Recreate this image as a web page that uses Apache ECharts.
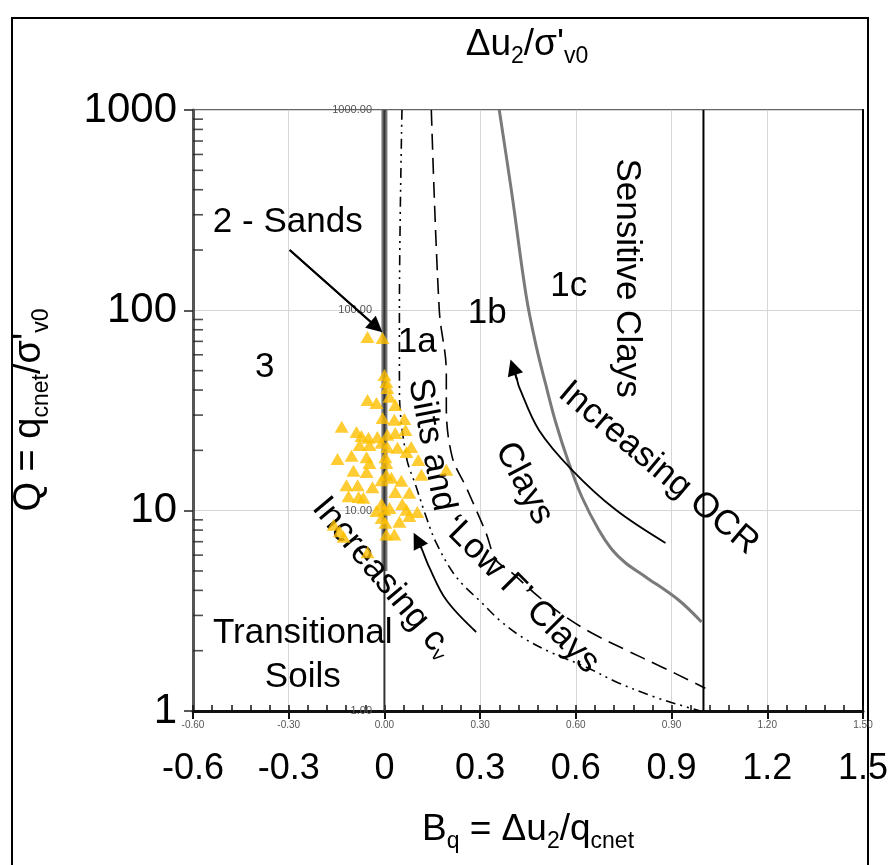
<!DOCTYPE html>
<html><head><meta charset="utf-8">
<script src="https://cdn.jsdelivr.net/npm/echarts@6/dist/echarts.min.js"></script>
<style>html,body{margin:0;padding:0;background:#fff}#c{width:891px;height:865px}</style>
</head><body><div id="c"></div>
<script>
const FONT = '"Liberation Sans", Arial, Helvetica, sans-serif';

// ---- axis ticks ----
const xTickValues = [-0.6, -0.3, 0, 0.3, 0.6, 0.9, 1.2, 1.5];
const xTickLabels = ['-0.6', '-0.3', '0', '0.3', '0.6', '0.9', '1.2', '1.5'];
const xSmallTickLabels = ['-0.60', '-0.30', '0.00', '0.30', '0.60', '0.90', '1.20', '1.50'];
const yTickLabels = ['1', '10', '100', '1000'];
const minorTickQ = [2,3,4,5,6,7,8,9,20,30,40,50,60,70,80,90,200,300,400,500,600,700,800,900];

// ---- measured CPTu points (Bq, Q) ----
const pointsBq = [-0.053,-0.006,0.000,0.006,0.009,-0.053,-0.025,0.016,0.034,-0.006,0.031,0.0625,-0.134,-0.0875,-0.072,-0.05,-0.022,0.009,0.034,0.066,-0.078,-0.047,-0.009,0.009,0.041,0.069,0.084,-0.147,-0.103,-0.056,0.003,0.106,-0.047,0.006,0.194,-0.097,-0.056,0.006,0.116,-0.009,0.022,0.053,-0.119,-0.084,-0.0375,0.034,0.078,-0.1125,-0.081,-0.066,-0.009,0.056,-0.025,0.0,0.016,0.069,0.103,-0.009,0.047,0.078,0.003,-0.159,-0.14,-0.128,0.006,0.031,-0.053];
const pointsQ  = [73.7,72.8,47.6,43.9,41.0,35.7,34.5,37.0,33.7,29.0,28.4,28.7,26.2,24.7,23.6,23.1,23.3,23.9,24.4,25.3,21.3,21.3,21.8,20.8,20.6,19.6,20.8,18.1,18.8,18.5,18.5,17.9,17.3,17.3,16.0,15.8,15.6,15.1,15.1,14.2,14.6,14.1,13.4,13.4,13.1,12.4,12.3,11.8,11.7,11.6,10.8,10.8,9.96,10.1,10.3,10.1,9.85,9.2,8.8,9.4,8.7,8.5,7.9,7.4,7.6,7.6,6.2];

// ---- zone boundaries ----
const zeroLineBq = [0, 0];            const zeroLineQ = [1, 1000];
const zeroBandBq = [0, 0];            const zeroBandQ = [5, 1000];
const bqOneLineBq = [1, 1];           const bqOneLineQ = [1, 1000];
const sandsBoundaryBq = [0.055,0.047,0.047,0.069,0.1,0.131,0.1625,0.225,0.306,0.36,0.431,0.525,0.631,0.734,0.85,0.944,0.99];
const sandsBoundaryQ  = [1000,100,40,18.5,13.1,9.3,6.9,4.67,3.46,2.85,2.34,1.95,1.66,1.38,1.17,1.05,1.0];
const siltBoundaryBq = [0.147,0.172,0.194,0.194,0.2125,0.256,0.2875,0.319,0.35,0.4,0.484,0.569,0.65,0.756,0.869,0.953,1.006];
const siltBoundaryQ  = [1000,100,49,33,18.5,13.1,10.1,7.7,5.67,4.89,3.71,2.94,2.45,2.02,1.66,1.43,1.30];
const sensitiveBoundaryBq = [0.36,0.4,0.444,0.475,0.506,0.5375,0.578,0.619,0.672,0.713,0.756,0.819,0.922,0.994];
const sensitiveBoundaryQ  = [1000,377,119,67,42.4,27.4,17.3,11.7,8.0,6.4,5.48,4.67,3.58,2.78];

// ---- arrows ----
const sandsArrowBq = [-0.297, -0.025];   const sandsArrowQ = [200, 82.6];
const cvArrowBq = [0.2875,0.194,0.14,0.116,0.103];  const cvArrowQ = [2.48,3.58,5.24,6.5,7.14];
const ocrArrowBq = [0.881,0.725,0.5875,0.484,0.422,0.416,0.403]; const ocrArrowQ = [6.9,10.1,16,25.3,41.5,44.9,52];

// ---- annotation anchors (Bq, Q) ----
const annotationText = ['2 - Sands','3','1a','1b','1c','Sensitive Clays','Increasing OCR','Clays','Silts and','‘Low Γ’ Clays','Increasing c{v|v}','Transitional','Soils'];
const annotationBq   = [-0.303,-0.375,0.103,0.322,0.578,0.759,0.859,0.4375,0.147,0.428,-0.006,-0.256,-0.256];
const annotationQ    = [276,52,69.5,97,131,145,16.3,13.7,21.3,3.8,4.6,2.45,1.48];
const annotationRotate = [0,0,0,0,0,-90,-40,-62,-79,-45,-50,0,0];

const zip = (a, b) => a.map((v, i) => [v, b[i]]);
function curve(bq, q, lineStyle, smooth, z) {
  return {type:'line', data: zip(bq, q), symbol:'none', showSymbol:false, smooth: smooth ? 0.35 : false,
    lineStyle: lineStyle, silent:true, z: z || 3, animation:false};
}
function arrowHead(bq, q, size) {
  const n = bq.length;
  return {type:'lines', coordinateSystem:'cartesian2d', xAxisIndex:0, yAxisIndex:0,
    symbol:['none','triangle'], symbolSize:size, lineStyle:{color:'#000', width:2, opacity:1},
    data:[{coords:[[bq[n-2], q[n-2]], [bq[n-1], q[n-1]]]}], silent:true, z:6, animation:false};
}
function xIndex(v){ return xTickValues.findIndex(t => Math.abs(t - v) < 1e-6); }
const RICH_SUB = {fontSize:23, verticalAlign:'bottom', lineHeight:22, fontFamily:FONT, fill:'#000'};

const chart = echarts.init(document.getElementById('c'));
const option = {
  backgroundColor:'#fff',
  animation:false,
  grid:{left:193, right:25, top:110, bottom:154, show:true, borderColor:'#666', borderWidth:2, containLabel:false},
  xAxis:[
    {type:'value', min:-0.6, max:1.5, interval:0.3, position:'bottom',
     axisLine:{onZero:false, lineStyle:{color:'#111', width:3}},
     axisTick:{show:true, inside:false, length:8, lineStyle:{color:'#111', width:2}},
     axisLabel:{margin:40, fontSize:36, color:'#000', fontFamily:FONT,
       formatter: v => { const i = xIndex(v); return i >= 0 ? xTickLabels[i] : ''; }},
     splitLine:{show:true, lineStyle:{color:'#d6d6d6', width:1}}},
    {type:'value', min:-0.6, max:1.5, interval:0.06, position:'bottom',
     axisLine:{show:false, onZero:false},
     axisTick:{show:true, inside:true, length:6, lineStyle:{color:'#111', width:1.5}},
     axisLabel:{margin:9, fontSize:10, color:'#555', fontFamily:FONT,
       formatter: v => { const i = xIndex(v); return i >= 0 ? xSmallTickLabels[i] : ''; }},
     splitLine:{show:false}}
  ],
  yAxis:[
    {type:'log', min:1, max:1000, logBase:10, position:'left',
     axisLine:{onZero:false, lineStyle:{color:'#555', width:3}},
     axisTick:{show:true, length:9, lineStyle:{color:'#222', width:1.5}},
     axisLabel:{margin:16, fontSize:42, color:'#000', fontFamily:FONT,
       formatter: v => yTickLabels[Math.round(Math.log10(v))]},
     splitLine:{show:true, lineStyle:{color:'#d6d6d6', width:1}}},
    {type:'log', min:1, max:1000, logBase:10, position:'left', offset:-192,
     axisLine:{show:false, onZero:false},
     axisTick:{show:false},
     axisLabel:{margin:13, fontSize:11, color:'#555', fontFamily:FONT, formatter: v => Number(v).toFixed(2)},
     splitLine:{show:false}},
    {type:'log', min:1, max:1000, logBase:10, position:'right',
     axisLine:{show:true, onZero:false, lineStyle:{color:'#000', width:2}},
     axisTick:{show:false}, axisLabel:{show:false}, splitLine:{show:false}}
  ],
  series:[
    {type:'scatter', data: minorTickQ.map(q => [-0.6, q]), symbol:'rect', symbolSize:[10,1.6], symbolOffset:[5,0],
     itemStyle:{color:'#222'}, silent:true, z:2, animation:false},
    curve(zeroBandBq, zeroBandQ, {color:'#777', width:6}, false, 2),
    curve(zeroLineBq, zeroLineQ, {color:'#333', width:2}, false, 3),
    curve(bqOneLineBq, bqOneLineQ, {color:'#000', width:2}, false, 3),
    curve(sandsBoundaryBq, sandsBoundaryQ, {color:'#000', width:1.6, type:[10,5,2,5,2,5]}, true, 3),
    curve(siltBoundaryBq, siltBoundaryQ, {color:'#000', width:1.6, type:[16,8]}, true, 3),
    curve(sensitiveBoundaryBq, sensitiveBoundaryQ, {color:'#7a7a7a', width:3}, true, 3),
    curve(sandsArrowBq, sandsArrowQ, {color:'#000', width:1.8}, false, 5),
    arrowHead(sandsArrowBq, sandsArrowQ, 16),
    curve(cvArrowBq, cvArrowQ, {color:'#000', width:1.8}, true, 5),
    arrowHead(cvArrowBq, cvArrowQ, 16),
    curve(ocrArrowBq, ocrArrowQ, {color:'#000', width:1.8}, true, 5),
    arrowHead(ocrArrowBq, ocrArrowQ, 16),
    {type:'scatter', symbol:'circle', symbolSize:0.01, itemStyle:{color:'#000', opacity:1}, silent:true, z:7, animation:false,
     emphasis:{disabled:true},
     data: annotationText.map((t, i) => ({value:[annotationBq[i], annotationQ[i]],
       label:{show:true, position:'inside', formatter:t, rotate:annotationRotate[i],
         fontSize:35, color:'#000', opacity:1, textBorderWidth:0, fontFamily:FONT,
         rich:{v:{fontSize:20, verticalAlign:'bottom', lineHeight:22, fontFamily:FONT, color:'#000'}}}}))},
    {type:'scatter', name:'CPTu', data: zip(pointsBq, pointsQ), symbol:'triangle', symbolSize:[14,12],
     itemStyle:{color:'#FFC000'}, z:8, animation:false}
  ],
  graphic:[
    {type:'rect', shape:{x:12, y:18, width:856, height:900}, style:{fill:'none', stroke:'#000', lineWidth:2}, silent:true, z:-10},
    {type:'text', x:527, y:45, silent:true,
     style:{text:"Δu{s|2}/σ'{s|v0}", fontSize:37, fontFamily:FONT, fill:'#000', align:'center', verticalAlign:'middle', lineHeight:46, rich:{s:RICH_SUB}}},
    {type:'text', x:528, y:830, silent:true,
     style:{text:"B{s|q} = Δu{s|2}/q{s|cnet}", fontSize:37, fontFamily:FONT, fill:'#000', align:'center', verticalAlign:'middle', lineHeight:46, rich:{s:RICH_SUB}}},
    {type:'text', x:30, y:410, rotation:Math.PI/2, silent:true,
     style:{text:"Q = q{s|cnet}/σ'{s|v0}", fontSize:38, fontFamily:FONT, fill:'#000', align:'center', verticalAlign:'middle', lineHeight:46, rich:{s:RICH_SUB}}}
  ]
};
chart.setOption(option);
</script></body></html>
